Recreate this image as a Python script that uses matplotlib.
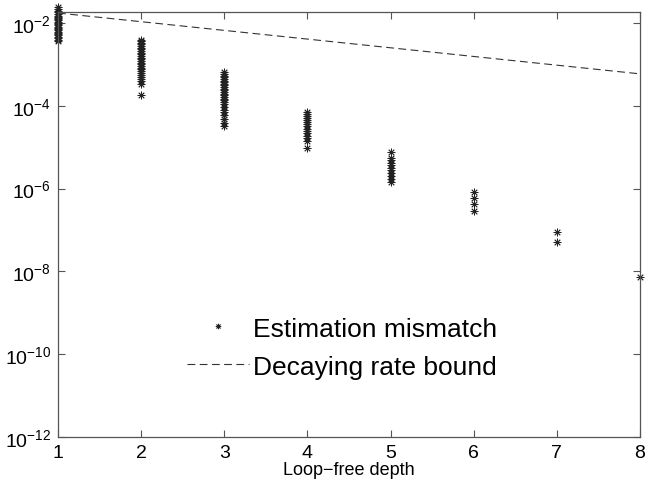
import numpy as np
import matplotlib
matplotlib.use('Agg')
import matplotlib.pyplot as plt
from matplotlib.ticker import FixedLocator, NullLocator

plt.rcParams['font.family'] = ['Liberation Sans', 'DejaVu Sans']
plt.rcParams['mathtext.fontset'] = 'custom'
plt.rcParams['mathtext.rm'] = 'Liberation Sans'
plt.rcParams['mathtext.it'] = 'Liberation Sans:italic'

# exponents (log10) of the estimation mismatch, per depth
depths = [1, 2, 3, 4, 5, 6, 7, 8]
exp_d1 = [-1.62, -1.66, -1.70, -1.74, -1.78, -1.82, -1.85, -1.88, -1.91, -1.94, -1.97, -2.00,
          -2.03, -2.06, -2.09, -2.12, -2.15, -2.18, -2.21, -2.24, -2.27, -2.30, -2.33, -2.36,
          -2.40, -2.44]
exp_d2 = [-2.40, -2.44, -2.48, -2.52, -2.56, -2.60, -2.64, -2.68, -2.72, -2.76, -2.80, -2.84,
          -2.88, -2.92, -2.96, -3.00, -3.04, -3.08, -3.12, -3.16, -3.20, -3.25, -3.30, -3.35,
          -3.41, -3.47, -3.74]
exp_d3 = [-3.19, -3.23, -3.27, -3.31, -3.35, -3.39, -3.43, -3.47, -3.51, -3.55, -3.59, -3.63,
          -3.67, -3.71, -3.75, -3.79, -3.83, -3.87, -3.91, -3.95, -4.02, -4.09, -4.16, -4.23,
          -4.32, -4.41, -4.50]
exp_d4 = [-4.15, -4.20, -4.25, -4.30, -4.35, -4.40, -4.45, -4.50, -4.55, -4.60, -4.66, -4.72,
          -4.78, -4.84, -5.01]
exp_d5 = [-5.11, -5.25, -5.32, -5.38, -5.44, -5.50, -5.56, -5.62, -5.70, -5.76, -5.83]
exp_d6 = [-6.08, -6.22, -6.38, -6.53]
exp_d7 = [-7.04, -7.28]
exp_d8 = [-8.14]
mismatch_exps = [exp_d1, exp_d2, exp_d3, exp_d4, exp_d5, exp_d6, exp_d7, exp_d8]

# decaying rate bound (straight line on log scale)
bound_x = [1, 8]
bound_y = [1.74e-2, 5.9e-4]

xs, ys = [], []
for d, e in zip(depths, mismatch_exps):
    xs += [d] * len(e)
    ys += list(10.0 ** np.array(e))

fig = plt.figure(figsize=(6.54, 4.85), dpi=100)
ax = fig.add_axes([0.0887, 0.0969, 0.8899, 0.8763])

ax.semilogy(xs, ys, linestyle='none', marker=(8, 2, 0), markersize=5.5,
            markeredgewidth=0.6, color='#222222', clip_on=False,
            label='Estimation mismatch')
ax.semilogy(bound_x, bound_y, linestyle=(0, (7, 4)), color='#333333', linewidth=0.8,
            label='Decaying rate bound')

ax.set_xlim(1, 8)
ax.set_ylim(1e-12, 10 ** -1.735)
ax.xaxis.set_major_locator(FixedLocator(depths))
ax.yaxis.set_major_locator(FixedLocator([1e-12, 1e-10, 1e-8, 1e-6, 1e-4, 1e-2]))
ax.yaxis.set_minor_locator(NullLocator())
ax.tick_params(direction='in', length=5, width=0.8, top=True, right=True,
               labelsize=14, colors='#555555', labelcolor='black', pad=5)
for s in ax.spines.values():
    s.set_color('#555555')
    s.set_linewidth(0.9)

ax.set_xlabel('Loop\u2212free depth', fontsize=13, labelpad=0)

ax.legend(loc='center', bbox_to_anchor=(0.523, 0.281), bbox_transform=fig.transFigure,
          frameon=False, fontsize=19, handlelength=2.35, handletextpad=0.12,
          labelspacing=0.53, markerscale=0.7)

fig.savefig('out.png', dpi=100)
